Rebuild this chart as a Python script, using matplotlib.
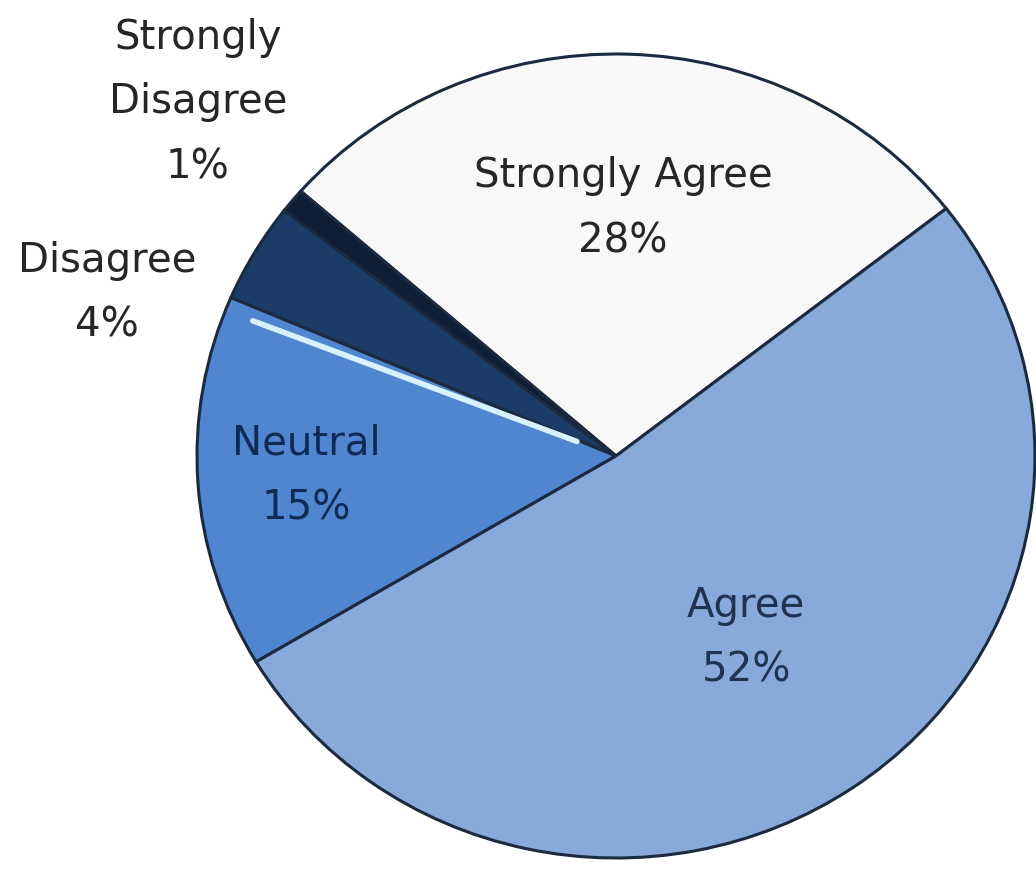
import numpy as np
import matplotlib
matplotlib.use('Agg')
import matplotlib.pyplot as plt

# survey answers, counter-clockwise from the Strongly Agree / Agree border
labels = ['Strongly Agree', 'Strongly\nDisagree', 'Disagree', 'Neutral', 'Agree']
shares = [28, 1, 4, 15, 52]
colors = ['#f8f8f8', '#0e1e35', '#1a3c66', '#4f86cf', '#87aadb']
text_colors = ['#262626', '#262626', '#262626', '#0f2a55', '#1f3350']

# where each label sits: distance from centre and angular nudge (degrees)
label_radius = [0.615, 1.33, 1.28, 0.74, 0.55]
label_nudge = [0.0, -2.0, 12.0, 0.0, 0.0]

plt.rcParams['font.family'] = ['DejaVu Sans']

fig = plt.figure(figsize=(10.36, 8.76), dpi=100)
fig.patch.set_facecolor('white')
# pie is slightly wider than tall in the reference
ax = fig.add_axes([197 / 1036, 18 / 876, 838 / 1036, 804 / 876])

wedges, _ = ax.pie(shares, colors=colors, startangle=38, counterclock=True,
                   radius=1, frame=False, normalize=True,
                   wedgeprops=dict(edgecolor='#1b2a3e', linewidth=2.2))
ax.set_aspect('auto')
ax.set_xlim(-1, 1)
ax.set_ylim(-1, 1)
ax.axis('off')

# bright bevel highlight along the upper edge of the Neutral slice
neu = wedges[3]
a = np.deg2rad(neu.theta1 + 2.0)
r = np.array([0.1, 0.93])
ax.plot(r * np.cos(a), r * np.sin(a), color='#d8f1ff', lw=4,
        solid_capstyle='round', zorder=3)

for w, lab, val, r, nudge, tc in zip(wedges, labels, shares, label_radius,
                                     label_nudge, text_colors):
    mid = np.deg2rad((w.theta1 + w.theta2) / 2 + nudge)
    ax.text(r * np.cos(mid), r * np.sin(mid), '%s\n%d%%' % (lab, val),
            ha='center', va='center', fontsize=29, color=tc,
            linespacing=1.8, clip_on=False, zorder=5)

fig.savefig('out.png', dpi=100, facecolor='white')
